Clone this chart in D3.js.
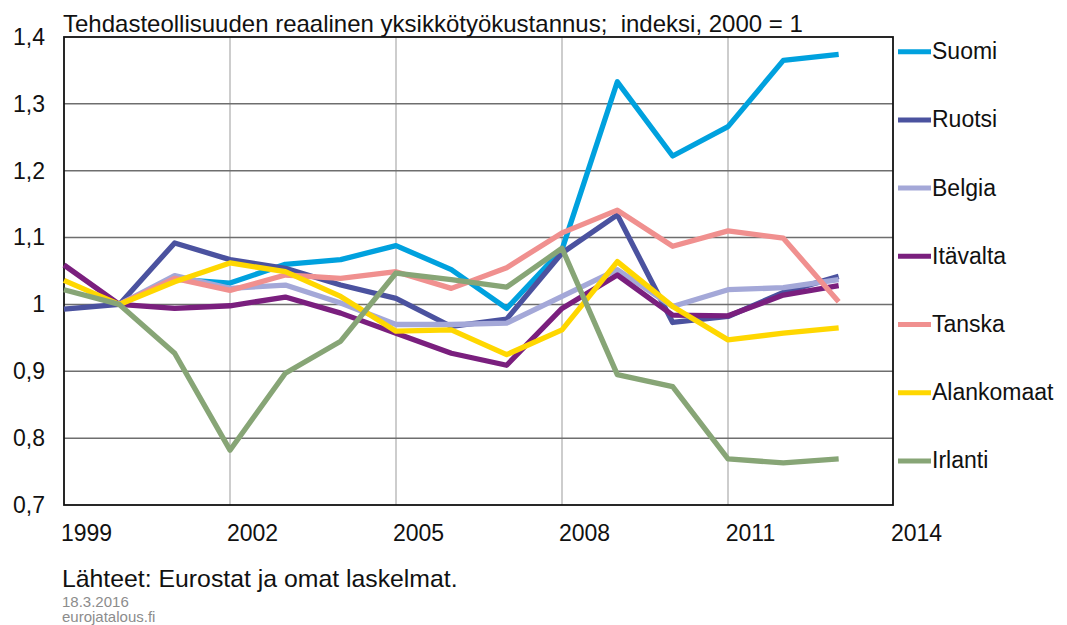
<!DOCTYPE html>
<html>
<head>
<meta charset="utf-8">
<script src="https://cdn.jsdelivr.net/npm/d3@7"></script>
<style>
  html, body { margin: 0; padding: 0; background: #fff; }
  svg { display: block; font-family: "Liberation Sans", Arial, sans-serif; }
</style>
</head>
<body>
<svg id="chart" width="1067" height="625"></svg>
<script>
const years = [1999, 2000, 2001, 2002, 2003, 2004, 2005, 2006, 2007, 2008, 2009, 2010, 2011, 2012, 2013];
const seriesNames = ["Suomi", "Ruotsi", "Belgia", "Itävalta", "Tanska", "Alankomaat", "Irlanti"];
const seriesColors = ["#00A1DE", "#4B529F", "#A4A8D8", "#7A1F7E", "#F0908F", "#FFD700", "#87A576"];
const suomi      = [null, 1.000, 1.038, 1.032, 1.060, 1.067, 1.088, 1.052, 0.994, 1.082, 1.333, 1.222, 1.266, 1.365, 1.374];
const ruotsi     = [0.993, 1.000, 1.092, 1.067, 1.054, 1.029, 1.009, 0.967, 0.978, 1.077, 1.134, 0.973, 0.982, 1.018, 1.042];
const belgia     = [null, 1.000, 1.043, 1.024, 1.029, 1.002, 0.970, 0.970, 0.972, 1.012, 1.052, 0.997, 1.022, 1.025, 1.037];
const itavalta   = [1.059, 1.000, 0.994, 0.998, 1.011, 0.987, 0.957, 0.927, 0.909, 0.994, 1.044, 0.984, 0.983, 1.014, 1.028];
const tanska     = [null, 1.000, 1.039, 1.021, 1.044, 1.039, 1.049, 1.024, 1.055, 1.107, 1.141, 1.087, 1.110, 1.099, 1.004];
const alankomaat = [1.036, 1.000, 1.034, 1.062, 1.049, 1.012, 0.960, 0.962, 0.925, 0.962, 1.064, 0.997, 0.947, 0.957, 0.965];
const irlanti    = [1.022, 1.000, 0.927, 0.782, 0.897, 0.945, 1.047, 1.037, 1.026, 1.084, 0.895, 0.877, 0.769, 0.763, 0.769];
const seriesValues = [suomi, ruotsi, belgia, itavalta, tanska, alankomaat, irlanti];
const xTicks = [1999, 2002, 2005, 2008, 2011, 2014];
const xVGrid = [2002, 2005, 2008, 2011];
const yTicks = [0.7, 0.8, 0.9, 1.0, 1.1, 1.2, 1.3, 1.4];
const titleText = "Tehdasteollisuuden reaalinen yksikkötyökustannus;  indeksi, 2000 = 1";
const sourceText = "Lähteet: Eurostat ja omat laskelmat.";
const dateText = "18.3.2016";
const siteText = "eurojatalous.fi";

const L = 64, R = 893, T = 37, B = 505;
const svg = d3.select("#chart");
const x = d3.scaleLinear().domain([1999, 2014]).range([L, 894]);
const y = d3.scaleLinear().domain([0.7, 1.4]).range([B, T]);
const fi = d3.formatLocale({decimal: ",", thousands: " ", grouping: [3], currency: ["", " €"]});
const fmt = fi.format("~g");

// vertical gridlines
svg.append("g").selectAll("line").data(xVGrid).join("line")
  .attr("x1", d => x(d)).attr("x2", d => x(d)).attr("y1", T).attr("y2", B)
  .attr("stroke", "#bdbdbd").attr("stroke-width", 1.5);

// horizontal gridlines
svg.append("g").selectAll("line").data(yTicks.filter(d => d > 0.7 && d < 1.4)).join("line")
  .attr("x1", L).attr("x2", R).attr("y1", d => y(d)).attr("y2", d => y(d))
  .attr("stroke", "#6e6e6e").attr("stroke-width", 1.5);

// frame
svg.append("rect").attr("x", L).attr("y", T).attr("width", R - L).attr("height", B - T)
  .attr("fill", "none").attr("stroke", "#111").attr("stroke-width", 1.8);

// y axis
const yAxis = svg.append("g").attr("transform", `translate(${L},0)`)
  .call(d3.axisLeft(y).tickValues(yTicks).tickFormat(fmt).tickSize(0).tickPadding(19));
yAxis.select(".domain").remove();
yAxis.selectAll("text").attr("font-size", 23).attr("fill", "#111").attr("font-family", "Liberation Sans, Arial, sans-serif");

// x axis
const xAxis = svg.append("g").attr("transform", `translate(0,${B})`)
  .call(d3.axisBottom(x).tickValues(xTicks).tickFormat(d3.format("d")).tickSize(0).tickPadding(20));
xAxis.select(".domain").remove();
xAxis.selectAll("text").attr("font-size", 23).attr("fill", "#111").attr("dx", 22)
  .attr("font-family", "Liberation Sans, Arial, sans-serif");

// lines
const line = d3.line().defined(d => d.v != null).x(d => x(d.year)).y(d => y(d.v));
seriesNames.forEach((name, i) => {
  const data = years.map((yr, j) => ({year: yr, v: seriesValues[i][j]}));
  svg.append("path").datum(data).attr("d", line)
    .attr("fill", "none").attr("stroke", seriesColors[i]).attr("stroke-width", 5.3)
    .attr("stroke-linejoin", "round").attr("stroke-linecap", "butt");
});

// legend
const lg = svg.append("g");
seriesNames.forEach((name, i) => {
  const ly = 51.7 + i * 68.2;
  lg.append("line").attr("x1", 898).attr("x2", 931).attr("y1", ly).attr("y2", ly)
    .attr("stroke", seriesColors[i]).attr("stroke-width", 5);
  lg.append("text").attr("x", 932).attr("y", ly + 7.5).attr("font-size", 23).attr("fill", "#111").text(name);
});

// title
svg.append("text").attr("x", 63).attr("y", 32).attr("font-size", 24).attr("fill", "#111")
  .attr("xml:space", "preserve").style("white-space", "pre").text(titleText);

// footer
svg.append("text").attr("x", 62).attr("y", 587).attr("font-size", 24.8).attr("fill", "#111").text(sourceText);
svg.append("text").attr("x", 62).attr("y", 607).attr("font-size", 15).attr("fill", "#8c8c8c").text(dateText);
svg.append("text").attr("x", 62).attr("y", 622).attr("font-size", 15).attr("fill", "#8c8c8c").text(siteText);
</script>
</body>
</html>
